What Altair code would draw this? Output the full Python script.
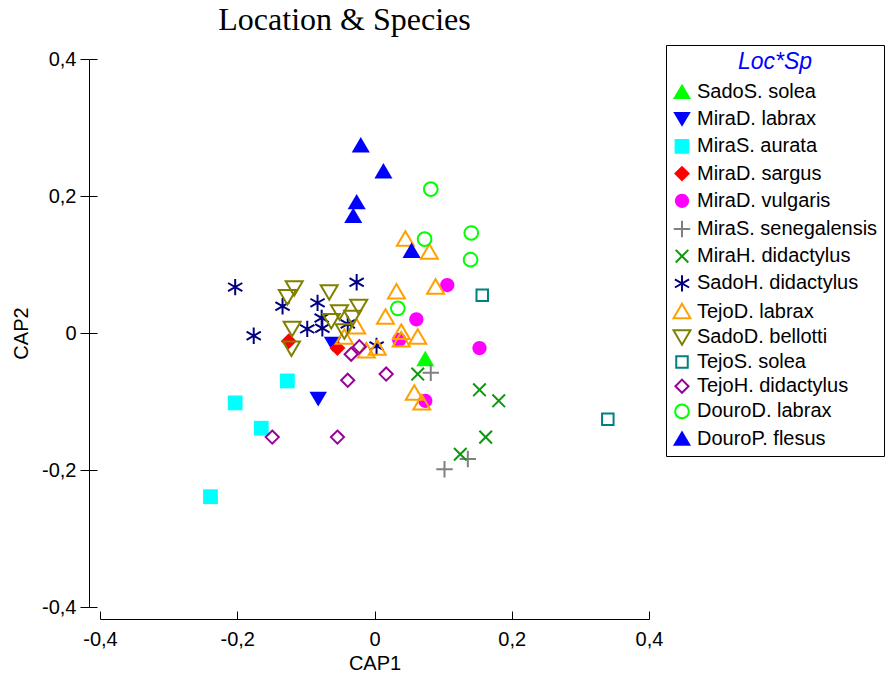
import altair as alt
import pandas as pd

SERIES = ["SadoS. solea", "MiraD. labrax", "MiraS. aurata", "MiraD. sargus",
          "MiraD. vulgaris", "MiraS. senegalensis", "MiraH. didactylus",
          "SadoH. didactylus", "TejoD. labrax", "SadoD. bellotti", "TejoS. solea",
          "TejoH. didactylus", "DouroD. labrax", "DouroP. flesus"]
COLORS = ["#00ff00", "#0000ff", "#00ffff", "#ff0000", "#ff00ff", "#808080", "#0a990a",
          "#000080", "#ffa000", "#808000", "#008080", "#990099", "#00ff00", "#0000ff"]
FILLED = [True, True, True, True, True, False, False, False, False, False, False,
          False, False, True]

TRI_UP_F = "M0,-1.5L1.65,1.3L-1.65,1.3Z"
TRI_DN_F = "M0,1.4L1.6,-1.3L-1.6,-1.3Z"
SQ_F = "M-1.35,-1.35H1.35V1.35H-1.35Z"
DIA_F = "M0,-1.45L1.45,0L0,1.45L-1.45,0Z"
CIRC_F = "M1.3,0A1.3,1.3,0,1,1,-1.3,0A1.3,1.3,0,1,1,1.3,0Z"
PLUS = "M-1.5,0H1.5M0,-1.5V1.5"
XMARK = "M-1.15,-1.15L1.15,1.15M-1.15,1.15L1.15,-1.15"
AST = "M0,-1.5V1.5M-1.3,-0.75L1.3,0.75M-1.3,0.75L1.3,-0.75"
TRI_UP_O = "M0,-1.45L1.55,1.2L-1.55,1.2Z"
TRI_DN_O = "M0,1.45L1.55,-1.2L-1.55,-1.2Z"
SQ_O = "M-1.05,-1.05H1.05V1.05H-1.05Z"
DIA_O = "M0,-1.2L1.2,0L0,1.2L-1.2,0Z"
CIRC_O = "M1.25,0A1.25,1.25,0,1,1,-1.25,0A1.25,1.25,0,1,1,1.25,0Z"
SHAPES = [TRI_UP_F, TRI_DN_F, SQ_F, DIA_F, CIRC_F, PLUS, XMARK, AST, TRI_UP_O,
          TRI_DN_O, SQ_O, DIA_O, CIRC_O, TRI_UP_F]

sado_solea_x = [0.074]
sado_solea_y = [-0.038]
mira_labrax_x = [-0.082, -0.061]
mira_labrax_y = [-0.096, -0.016]
mira_aurata_x = [-0.127, -0.203, -0.165, -0.239]
mira_aurata_y = [-0.070, -0.102, -0.139, -0.239]
mira_sargus_x = [-0.125, -0.054]
mira_sargus_y = [-0.012, -0.022]
mira_vulgaris_x = [0.106, 0.061, 0.036, 0.153, 0.074]
mira_vulgaris_y = [0.070, 0.020, -0.010, -0.022, -0.099]
mira_seneg_x = [0.082, 0.102, 0.136]
mira_seneg_y = [-0.058, -0.199, -0.184]
mira_hdid_x = [0.063, 0.153, 0.181, 0.162, 0.125]
mira_hdid_y = [-0.060, -0.083, -0.099, -0.152, -0.177]
sado_hdid_x = [-0.203, -0.176, -0.134, -0.083, -0.026, -0.098, -0.077, -0.076, -0.039, 0.003]
sado_hdid_y = [0.067, -0.004, 0.039, 0.044, 0.074, 0.006, 0.022, 0.007, 0.013, -0.019]
tejo_labrax_x = [0.045, 0.080, 0.032, 0.089, 0.016, -0.026, 0.039, 0.039, 0.063, -0.044,
                 -0.012, 0.004, 0.058, 0.069]
tejo_labrax_y = [0.137, 0.118, 0.060, 0.067, 0.023, 0.009, 0.001, -0.010, -0.006, -0.006,
                 -0.026, -0.022, -0.088, -0.102]
sado_bellotti_x = [-0.117, -0.127, -0.066, -0.023, -0.051, -0.032, -0.063, -0.044, -0.120, -0.121]
sado_bellotti_y = [0.066, 0.053, 0.060, 0.039, 0.031, 0.023, 0.018, 0.003, 0.007, -0.022]
tejo_solea_x = [0.157, 0.340]
tejo_solea_y = [0.055, -0.126]
tejo_hdid_x = [-0.034, -0.022, -0.039, 0.017, -0.149, -0.054]
tejo_hdid_y = [-0.031, -0.020, -0.069, -0.060, -0.152, -0.152]
douro_labrax_x = [0.082, 0.073, 0.141, 0.140, 0.034]
douro_labrax_y = [0.210, 0.137, 0.146, 0.107, 0.036]
douro_flesus_x = [-0.020, 0.013, -0.026, -0.031, 0.054]
douro_flesus_y = [0.274, 0.236, 0.191, 0.171, 0.120]

XS = [sado_solea_x, mira_labrax_x, mira_aurata_x, mira_sargus_x, mira_vulgaris_x,
      mira_seneg_x, mira_hdid_x, sado_hdid_x, tejo_labrax_x, sado_bellotti_x,
      tejo_solea_x, tejo_hdid_x, douro_labrax_x, douro_flesus_x]
YS = [sado_solea_y, mira_labrax_y, mira_aurata_y, mira_sargus_y, mira_vulgaris_y,
      mira_seneg_y, mira_hdid_y, sado_hdid_y, tejo_labrax_y, sado_bellotti_y,
      tejo_solea_y, tejo_hdid_y, douro_labrax_y, douro_flesus_y]

TICKS = [-0.4, -0.2, 0, 0.2, 0.4]

rows = []
i = 0
for name, xs, ys in zip(SERIES, XS, YS):
    for xv, yv in zip(xs, ys):
        rows.append({"series": name, "x": xv, "y": yv, "idx": i})
        i += 1
df = pd.DataFrame(rows)

FILLS = [c if f else "transparent" for c, f in zip(COLORS, FILLED)]
STROKES = ["transparent" if f else c for c, f in zip(COLORS, FILLED)]

FONT = "Liberation Sans"
LABEL_EXPR = ("(datum.value < 0 ? '-' : '') + (datum.value == 0 ? '0' : "
              "'0,' + round(abs(datum.value) * 10))")

xscale = alt.Scale(domain=[-0.4, 0.4], nice=False, zero=False)
yscale = alt.Scale(domain=[-0.4, 0.4], nice=False, zero=False)

axis_x_main = alt.Axis(orient="bottom", offset=12, values=TICKS, domain=True,
                       domainColor="black", domainWidth=1, ticks=False, tickSize=0,
                       grid=False, labelExpr=LABEL_EXPR, labelFont=FONT,
                       labelFontSize=20, labelColor="black", labelPadding=10,
                       labelFlush=False, labelOverlap=False, title="CAP1",
                       titleFont=FONT, titleFontSize=20, titleFontWeight="normal",
                       titleColor="black", titlePadding=4)
axis_x_ticks = alt.Axis(orient="bottom", offset=4, values=TICKS, domain=False,
                        ticks=True, tickSize=8, tickColor="black", tickWidth=1,
                        labels=False, grid=False, title=None)
axis_y_main = alt.Axis(orient="left", offset=11, values=TICKS, domain=True,
                       domainColor="black", domainWidth=1, ticks=True, tickSize=9,
                       tickColor="black", tickWidth=1, grid=False,
                       labelExpr=LABEL_EXPR, labelFont=FONT, labelFontSize=20,
                       labelColor="black", labelPadding=4, labelFlush=False,
                       labelOverlap=False, title="CAP2", titleFont=FONT,
                       titleFontSize=20, titleFontWeight="normal", titleColor="black",
                       titlePadding=10)
axis_y_ticks = alt.Axis(orient="left", offset=3, values=TICKS, domain=False,
                        ticks=True, tickSize=8, tickColor="black", tickWidth=1,
                        labels=False, grid=False, title=None)

legend = alt.Legend(orient="none", legendX=566, legendY=-14, title="Loc*Sp",
                    titleFont=FONT, titleFontStyle="italic", titleFontWeight="normal",
                    titleFontSize=23, titleColor="#0000ff", titleAnchor="middle",
                    titlePadding=8, labelFont=FONT, labelFontSize=20,
                    labelColor="black", labelLimit=400, labelOffset=5,
                    strokeColor="black", fillColor="white", padding=6,
                    rowPadding=3.2, symbolSize=120, symbolStrokeWidth=2,
                    symbolOpacity=1)

base = alt.Chart(df)

points = base.mark_point(opacity=1, size=120, strokeWidth=2).encode(
    x=alt.X("x:Q", scale=xscale, axis=axis_x_main),
    y=alt.Y("y:Q", scale=yscale, axis=axis_y_main),
    shape=alt.Shape("series:N", scale=alt.Scale(domain=SERIES, range=SHAPES), legend=legend),
    fill=alt.Fill("series:N", scale=alt.Scale(domain=SERIES, range=FILLS), legend=legend),
    stroke=alt.Stroke("series:N", scale=alt.Scale(domain=SERIES, range=STROKES), legend=legend),
    order=alt.Order("idx:Q"),
)

tick_layer = base.mark_point(opacity=0).encode(
    x=alt.X("x:Q", scale=xscale, axis=axis_x_ticks),
    y=alt.Y("y:Q", scale=yscale, axis=axis_y_ticks),
)

chart = alt.layer(points, tick_layer).resolve_axis(
    x="independent", y="independent"
).properties(
    width=549,
    height=548,
    autosize=alt.AutoSizeParams(type="none"),
    padding={"left": 100, "top": 59, "right": 239, "bottom": 71},
    background="white",
    title=alt.Title("Location & Species", font="Liberation Serif", fontSize=32,
                    fontWeight="normal", color="black", anchor="middle", dx=-30,
                    offset=8),
).configure_view(stroke=None)

chart.save("out.html", embed_options={"renderer": "svg", "actions": False})
